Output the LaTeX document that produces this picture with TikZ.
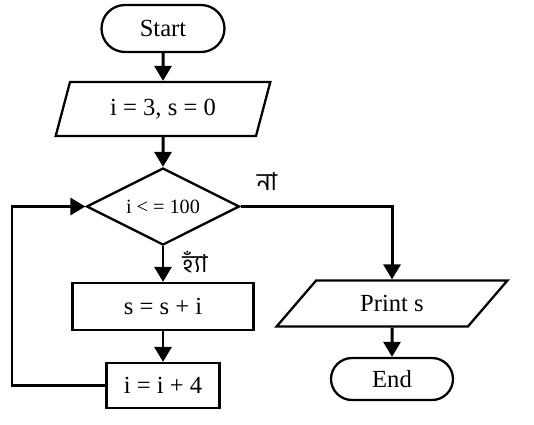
\documentclass[tikz,border=0pt]{standalone}
\usepackage{fontspec}
\setmainfont{Liberation Serif}
\newfontfamily\bnfont[Script=Bengali]{Hind Siliguri}
\usetikzlibrary{shapes.geometric,shapes.misc,arrows.meta}

\begin{document}
\begin{tikzpicture}[x=0.02cm, y=-0.02cm, line width=1.3pt, font=\fontsize{14}{16}\selectfont,
  term/.style={draw, rounded rectangle, inner sep=0pt},
  io/.style={draw, trapezium, trapezium stretches=true, inner sep=0pt},
  proc/.style={draw, rectangle, inner sep=0pt},
  dec/.style={draw, diamond, aspect=2, inner sep=0pt, font=\fontsize{11.5}{13}\selectfont},
  arr/.style={-{Triangle[length=0.3cm,width=0.34cm]}, line width=1.7pt}]
\useasboundingbox (0,0) rectangle (534,424);
\node[term, minimum width=2.46cm, minimum height=0.94cm] (start) at (163,28.5) {Start};
\node[io, trapezium left angle=68, trapezium right angle=112, minimum width=4.3cm, minimum height=1.08cm] (init) at (163,109) {i = 3, s = 0};
\node[dec, minimum width=3.06cm, minimum height=1.54cm] (cond) at (163,206.5) {i < = 100};
\node[proc, minimum width=3.62cm, minimum height=0.94cm] (add) at (163,306.5) {s = s + i};
\node[proc, minimum width=2.26cm, minimum height=0.9cm] (inc) at (163,385.5) {i = i + 4};
\node[io, trapezium left angle=45, trapezium right angle=135, minimum width=4.64cm, minimum height=0.92cm] (print) at (392,303.5) {Print s};
\node[term, minimum width=2.44cm, minimum height=0.84cm] (end) at (392,379) {End};
\node (no) at (267,182) {\bnfont না};
\node (yes) at (195,262) {\bnfont হ্যাঁ};
\coordinate (back) at (12,385.5);
\draw[arr] (start) -- (init);
\draw[arr] (init) -- (cond);
\draw[arr] (cond) -- (add);
\draw[arr] (add) -- (inc);
\draw[arr] (inc) -- (back) |- (cond);
\draw[arr] (cond) -| (print);
\draw[arr] (print) -- (end);
\end{tikzpicture}
\end{document}
